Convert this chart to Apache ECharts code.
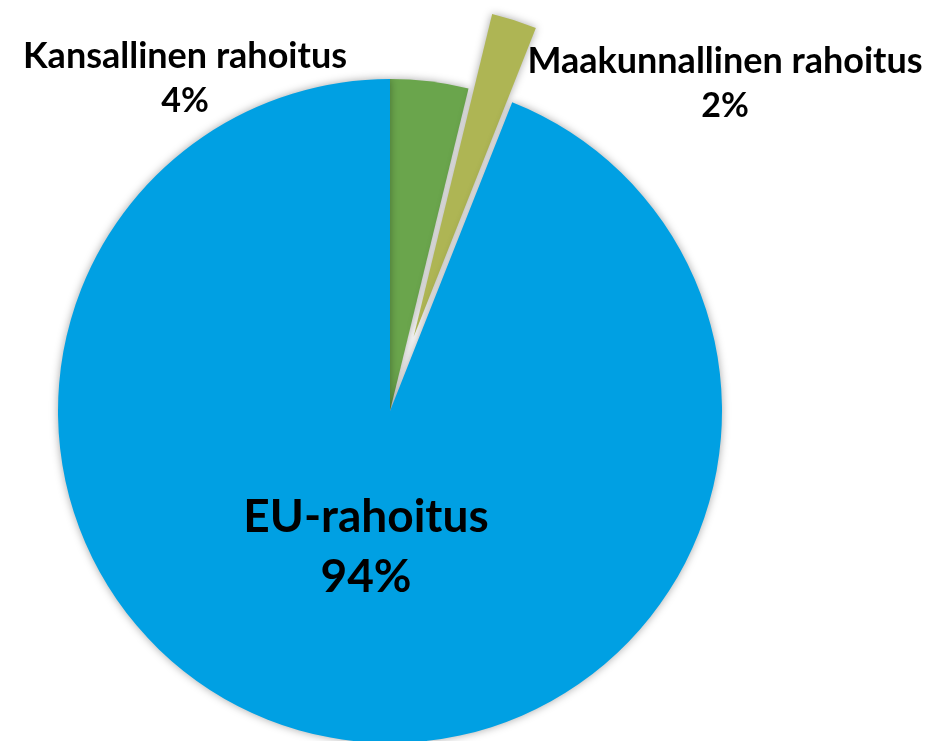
<!DOCTYPE html>
<html>
<head>
<meta charset="utf-8">
<style>html,body{margin:0;padding:0;background:#fff}#c{width:928px;height:741px}</style>
<script src="https://cdn.jsdelivr.net/npm/echarts@6/dist/echarts.min.js"></script>
</head>
<body>
<div id="c"></div>
<script>
const categories = ['Kansallinen rahoitus', 'Maakunnallinen rahoitus', 'EU-rahoitus'];
const values = [3.8, 2.2, 94.0];
const colors = ['#6AA54C', '#AEB554', '#00A0E3'];
const explodedIndex = 1;

const labelPos = [
  { x: 185, y: 79, small: true },
  { x: 725, y: 84, small: true },
  { x: 366, y: 547, small: false }
];

const pieCenter = [390, 411];
const pieRadius = [0, 332];

const chart = echarts.init(document.getElementById('c'));
chart.setOption({
  animation: false,
  series: [{
    // drawn slices
    type: 'pie',
    center: pieCenter,
    radius: pieRadius,
    startAngle: 90,
    clockwise: true,
    selectedMode: 'single',
    selectedOffset: 78,
    silent: true,
    itemStyle: {
      shadowBlur: 8,
      shadowColor: 'rgba(0,0,0,0.35)',
      borderWidth: 0
    },
    label: { show: false },
    labelLine: { show: false },
    emphasis: { disabled: true },
    data: categories.map((name, i) => ({
      name: name,
      value: values[i],
      selected: i === explodedIndex,
      itemStyle: { color: colors[i] }
    }))
  }, {
    // label carrier (same data, invisible slices)
    type: 'pie',
    center: pieCenter,
    radius: pieRadius,
    startAngle: 90,
    clockwise: true,
    percentPrecision: 0,
    silent: true,
    z: 5,
    itemStyle: { color: 'rgba(0,0,0,0)', borderWidth: 0 },
    label: {
      show: true,
      position: 'inside',
      color: '#000',
      formatter: function (p) {
        const s = labelPos[p.dataIndex].small ? 's' : 'b';
        return '{' + s + 'n|' + p.name + '}\n{' + s + 'p|' + p.percent + '%}';
      },
      rich: {
        sn: { fontFamily: 'Lato', fontWeight: 'bold', fontSize: 36, lineHeight: 45, color: '#000', align: 'center' },
        sp: { fontFamily: 'Lato', fontWeight: 'bold', fontSize: 34, lineHeight: 45, color: '#000', align: 'center' },
        bn: { fontFamily: 'Lato', fontWeight: 'bold', fontSize: 46, lineHeight: 60, color: '#000', align: 'center' },
        bp: { fontFamily: 'Lato', fontWeight: 'bold', fontSize: 46, lineHeight: 60, color: '#000', align: 'center' }
      }
    },
    labelLine: { show: false },
    labelLayout: function (params) {
      const lp = labelPos[params.dataIndex];
      return { x: lp.x, y: lp.y, align: 'center', verticalAlign: 'middle', hideOverlap: false };
    },
    emphasis: { disabled: true },
    data: categories.map((name, i) => ({ name: name, value: values[i] }))
  }]
});
</script>
</body>
</html>
